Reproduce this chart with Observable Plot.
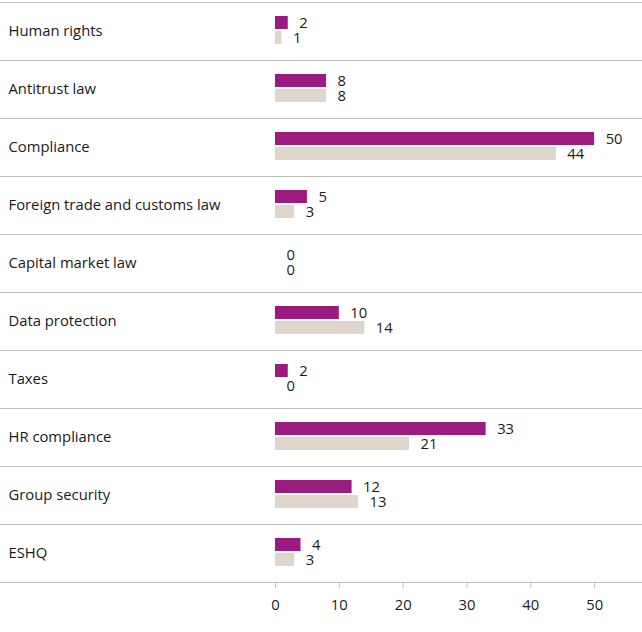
<!DOCTYPE html>
<html><head><meta charset="utf-8">
<script src="https://cdn.jsdelivr.net/npm/d3@7"></script>
<script src="https://cdn.jsdelivr.net/npm/@observablehq/plot@0.6"></script>
<style>body{margin:0;background:#fff}</style>
</head><body><div id="chart"></div>
<script>
const categories = ["Human rights","Antitrust law","Compliance","Foreign trade and customs law","Capital market law","Data protection","Taxes","HR compliance","Group security","ESHQ"];
const seriesNames = ["Current year","Previous year"];
const current = [2,8,50,5,0,10,2,33,12,4];
const previous = [1,8,44,3,0,14,0,21,13,3];
const xTicks = [0,10,20,30,40,50];
const colors = ["#9b1b7f","#ded6ca"];

const rows = categories.flatMap((c,i)=>[
  {category:c, series:seriesNames[0], value:current[i]},
  {category:c, series:seriesNames[1], value:previous[i]}
]);

const lineColor = "#c5beb6";
const textColor = "#1a1a1a";

const chart = Plot.plot({
  width:642, height:632, marginTop:1, marginBottom:49, marginLeft:0, marginRight:0,
  style:{fontFamily:"'Open Sans', sans-serif", fontSize:"14.8px", color:textColor, background:"#fff"},
  fy:{domain:categories, padding:0, axis:null},
  y:{domain:seriesNames, range:[14,43], paddingInner:0.14, paddingOuter:0, axis:null},
  x:{domain:[0,57.5], range:[275,642], axis:null},
  color:{domain:seriesNames, range:colors},
  marks:[
    Plot.frame({anchor:"top", stroke:lineColor, strokeWidth:1.2}),
    Plot.frame({anchor:"bottom", stroke:lineColor, strokeWidth:1.2}),
    Plot.barX(rows,{fy:"category", y:"series", x:"value", fill:"series"}),
    Plot.text(rows,{fy:"category", y:"series", x:"value", text:d=>String(d.value), dx:11, textAnchor:"start", fill:textColor}),
    Plot.text(categories,{fy:d=>d, text:d=>d, frameAnchor:"left", dx:8, fill:textColor}),
    Plot.axisX({ticks:xTicks, tickSize:6, tickPadding:11, stroke:lineColor, fill:textColor, label:null})
  ]
});
document.getElementById("chart").appendChild(chart);
</script>
</body></html>
